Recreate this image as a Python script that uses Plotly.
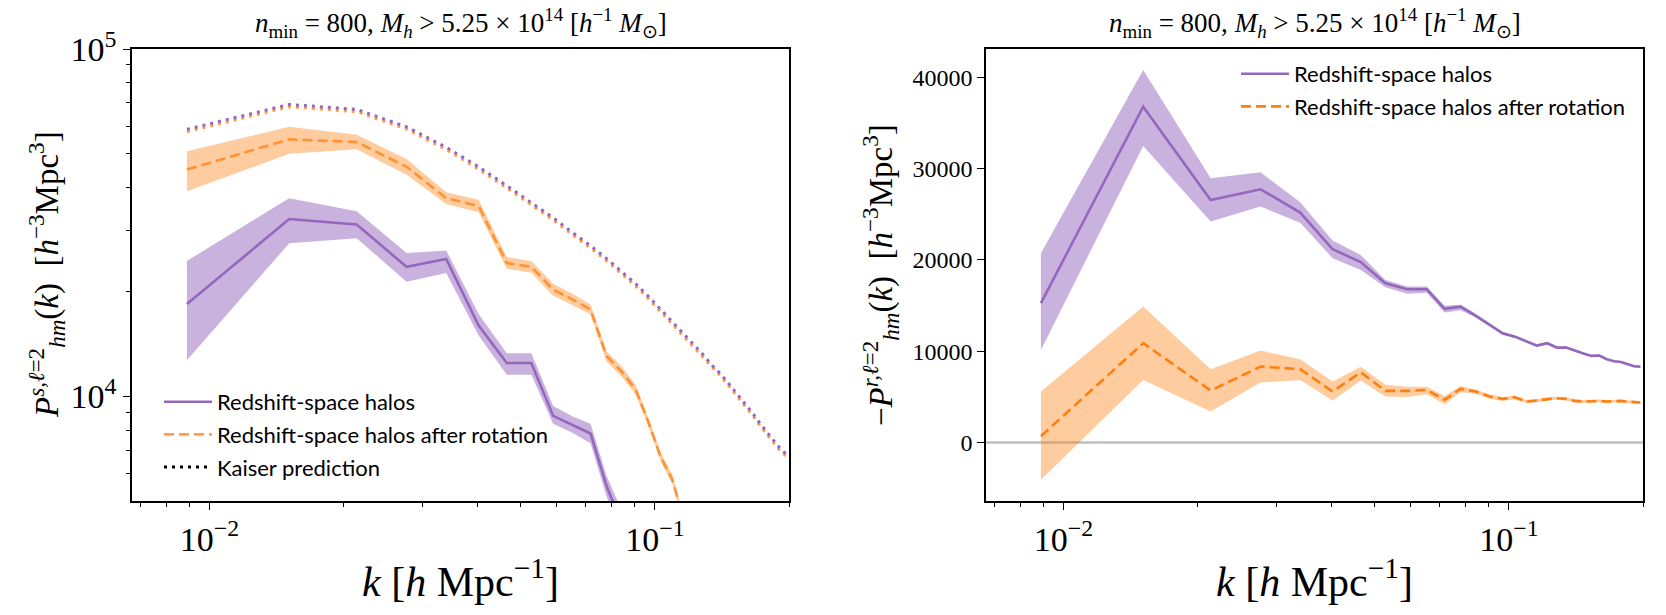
import plotly.graph_objects as go

# ---------------- data ----------------
k = [0.0089, 0.0151, 0.0214, 0.0277, 0.0340, 0.0402, 0.0465, 0.0528, 0.0591, 0.0654,
     0.0717, 0.0779, 0.0842, 0.0905, 0.0968, 0.1031, 0.1094, 0.1156, 0.1219, 0.1282,
     0.1345, 0.1408, 0.1470, 0.1533, 0.1596, 0.1659, 0.1722, 0.1784, 0.1847, 0.1910, 0.1973]

# left panel: P_hm^{s,l=2}
left_halos = [18440, 32400, 31250, 23600, 24870, 15990, 12480, 12480, 8790, 8280, 7820, 5520, 4300]
left_halos_lo = [12710, 27590, 28540, 21390, 22670, 14970, 11550, 11550, 8340, 7850, 7330, 5150, 3900]
left_halos_hi = [24540, 37210, 34140, 25850, 26320, 17280, 13320, 13320, 9380, 8750, 8340, 5900, 4700]

left_rot = [45000, 54950, 53960, 45810, 37210, 35320, 24220, 23600, 20290, 19000, 17780, 13050,
            11790, 10470, 8400, 6680, 5770, 4500]
left_rot_lo = [38980, 49920, 51480, 43480, 35780, 33900, 23290, 22700, 19500, 18300, 17200, 12600,
               11400, 10150, 8150, 6500, 5600, 4380]
left_rot_hi = [50820, 59730, 56680, 48270, 38690, 36800, 25180, 24550, 21100, 19700, 18400, 13500,
               12200, 10800, 8650, 6870, 5950, 4620]

kaiser_halos = [58720, 69250, 67000, 59700, 52120, 45810, 40400, 36090, 32680, 29600, 27150, 24920,
                22870, 21110, 19380, 17780, 16320, 15170, 14100, 13200, 12270, 11570, 10820, 10130,
                9540, 8930, 8360, 7880, 7470, 7090, 6810]
kaiser_rot = [57800, 68200, 66000, 58800, 51350, 45100, 39800, 35550, 32200, 29150, 26750, 24550,
              22530, 20800, 19090, 17510, 16080, 14940, 13890, 13000, 12090, 11400, 10660, 9980,
              9400, 8800, 8230, 7760, 7360, 6980, 6710]

# right panel: -P_hm^{r,l=2}
right_halos = [15260, 36780, 26570, 27740, 25180, 21170, 19760, 17450, 16790, 16790, 14640, 14890,
               13900, 12880, 11970, 11600, 11060, 10620, 10880, 10400, 10400, 10040, 9750, 9490,
               9530, 9130, 8910, 8830, 8580, 8360, 8320]
right_halos_hi = [20730, 40800, 28940, 29600, 26310, 22120, 20550, 17810, 17100, 17100, 14970, 15100,
                  14080, 13050, 12130, 11750, 11200, 10760, 11010, 10530, 10520, 10160, 9860, 9600,
                  9640, 9240, 9010, 8930, 8680, 8460, 8420]
right_halos_lo = [10150, 32480, 24200, 25840, 24080, 20190, 18910, 17010, 16300, 16400, 14230, 14490,
                  13700, 12700, 11810, 11450, 10920, 10480, 10750, 10270, 10280, 9920, 9640, 9380,
                  9420, 9020, 8810, 8730, 8480, 8260, 8220]

right_rot = [700, 10880, 5700, 8320, 8040, 5580, 7700, 5660, 5660, 5770, 4670, 5880, 5590, 5040,
             4780, 4960, 4490, 4600, 4780, 4850, 4780, 4560, 4490, 4530, 4560, 4490, 4560, 4560,
             4490, 4420, 4380]
right_rot_hi = [5580, 14890, 8040, 10070, 9130, 6680, 8300, 6320, 6100, 6100, 5100, 6200, 5800, 5250,
                4980, 5150, 4680, 4780, 4960, 5020, 4950, 4720, 4650, 4690, 4710, 4640, 4700, 4700,
                4630, 4560, 4520]
right_rot_lo = [-4080, 6860, 3400, 6570, 6860, 4600, 6800, 5040, 5000, 5300, 4200, 5500, 5350, 4800,
                4560, 4750, 4300, 4420, 4600, 4680, 4610, 4400, 4330, 4370, 4410, 4340, 4420, 4420,
                4350, 4280, 4240]

title_text = ("<i>n</i><sub>min</sub> = 800, <i>M<sub>h</sub></i> &gt; 5.25 × 10<sup>14</sup> "
              "[<i>h</i><sup>−1</sup> <i>M</i><sub>⊙</sub>]")

PURPLE = "#9467bd"
ORANGE = "#ff7f0e"
PURPLE_BAND = "rgba(148,103,189,0.5)"
ORANGE_BAND = "rgba(255,127,14,0.4)"
SERIF = "Liberation Serif"
SANS = "Lato"


def band(x, lo, hi, color, xa, ya):
    n = len(lo)
    xs = list(x[:n]) + list(x[:n])[::-1]
    ys = list(hi) + list(lo)[::-1]
    return go.Scatter(x=xs, y=ys, fill="toself", fillcolor=color, line=dict(width=0),
                      mode="lines", hoverinfo="skip", showlegend=False, xaxis=xa, yaxis=ya)


fig = go.Figure()

# ---- left panel ----
fig.add_trace(band(k, left_halos_lo, left_halos_hi, PURPLE_BAND, "x", "y"))
fig.add_trace(band(k, left_rot_lo, left_rot_hi, ORANGE_BAND, "x", "y"))
fig.add_trace(go.Scatter(x=k[:len(left_halos)], y=left_halos, mode="lines",
                         line=dict(color=PURPLE, width=2.6), name="Redshift-space halos",
                         legend="legend", legendgroup="a", xaxis="x", yaxis="y"))
fig.add_trace(go.Scatter(x=k[:len(left_rot)], y=left_rot, mode="lines",
                         line=dict(color="rgba(255,127,14,0.75)", width=2.6, dash="10px,5px"),
                         name="Redshift-space halos after rotation",
                         legend="legend", legendgroup="b", xaxis="x", yaxis="y"))
fig.add_trace(go.Scatter(x=k, y=kaiser_rot, mode="lines",
                         line=dict(color="rgba(255,127,14,0.75)", width=3, dash="3px,5px"),
                         showlegend=False, xaxis="x", yaxis="y"))
fig.add_trace(go.Scatter(x=k, y=kaiser_halos, mode="lines",
                         line=dict(color=PURPLE, width=3, dash="3px,5px"),
                         showlegend=False, xaxis="x", yaxis="y"))
fig.add_trace(go.Scatter(x=[None], y=[None], mode="lines",
                         line=dict(color="black", width=3, dash="3px,5px"),
                         name="Kaiser prediction", legend="legend", legendgroup="c",
                         xaxis="x", yaxis="y"))

# ---- right panel ----
fig.add_trace(band(k, right_halos_lo, right_halos_hi, PURPLE_BAND, "x2", "y2"))
fig.add_trace(band(k, right_rot_lo, right_rot_hi, ORANGE_BAND, "x2", "y2"))
fig.add_trace(go.Scatter(x=k, y=right_halos, mode="lines",
                         line=dict(color=PURPLE, width=2.6), name="Redshift-space halos",
                         legend="legend2", legendgroup="d", xaxis="x2", yaxis="y2"))
fig.add_trace(go.Scatter(x=k, y=right_rot, mode="lines",
                         line=dict(color=ORANGE, width=2.6, dash="10px,5px"),
                         name="Redshift-space halos after rotation",
                         legend="legend2", legendgroup="e", xaxis="x2", yaxis="y2"))

W, H = 1666, 615
L1, R1 = 132, 789
L2, R2 = 986, 1643
T, B = 49, 501

def px(x):
    return x / W

def py(y):
    return 1 - y / H

xminor = [0.007, 0.008, 0.009, 0.02, 0.03, 0.04, 0.05, 0.06, 0.07, 0.08, 0.09, 0.2]
common_x = dict(type="log", range=[-2.1739, -0.699], showline=True, linecolor="black", linewidth=1.5,
                mirror=True, ticks="outside", ticklen=7, tickwidth=1.3, tickcolor="black",
                tickvals=[0.01, 0.1], ticktext=["10<sup>−2</sup>", "10<sup>−1</sup>"],
                tickfont=dict(family=SERIF, size=34, color="black"), showgrid=False, zeroline=False,
                automargin=False,
                minor=dict(tickvals=xminor, ticks="outside", ticklen=4, tickwidth=1.1, tickcolor="black",
                           showgrid=False))

fig.update_layout(
    width=W, height=H, margin=dict(l=0, r=0, t=0, b=0, autoexpand=False),
    paper_bgcolor="white", plot_bgcolor="white",
    xaxis=dict(domain=[px(L1), px(R1)], anchor="y", **common_x),
    yaxis=dict(domain=[py(B), py(T)], anchor="x", type="log", range=[3.69897, 5], automargin=False,
               showline=True, linecolor="black", linewidth=1.5, mirror=True,
               ticks="outside", ticklen=7, tickwidth=1.3, tickcolor="black",
               tickvals=[1e4, 1e5], ticktext=["10<sup>4</sup>", "10<sup>5</sup>"],
               tickfont=dict(family=SERIF, size=34, color="black"), showgrid=False, zeroline=False,
               minor=dict(tickvals=[6000, 7000, 8000, 9000, 20000, 30000, 40000, 50000, 60000,
                                    70000, 80000, 90000],
                          ticks="outside", ticklen=4, tickwidth=1.1, tickcolor="black", showgrid=False)),
    xaxis2=dict(domain=[px(L2), px(R2)], anchor="y2", **common_x),
    yaxis2=dict(domain=[py(B), py(T)], anchor="x2", range=[-6400, 43100], automargin=False,
                showline=True, linecolor="black", linewidth=1.5, mirror=True,
                ticks="outside", ticklen=7, tickwidth=1.3, tickcolor="black",
                tickvals=[0, 10000, 20000, 30000, 40000],
                ticktext=["0", "10000", "20000", "30000", "40000"],
                tickfont=dict(family=SERIF, size=24, color="black"), showgrid=False, zeroline=False),
    legend=dict(x=px(159), y=py(381), xanchor="left", yanchor="top", bgcolor="rgba(0,0,0,0)",
                font=dict(family=SANS, size=22, color="black"), itemwidth=48, tracegroupgap=1),
    legend2=dict(x=px(1236), y=py(53), xanchor="left", yanchor="top", bgcolor="rgba(0,0,0,0)",
                 font=dict(family=SANS, size=22, color="black"), itemwidth=48, tracegroupgap=1),
    shapes=[dict(type="line", xref="x2 domain", x0=0, x1=1, yref="y2", y0=0, y1=0,
                 line=dict(color="#bfbfbf", width=2.5), layer="below")],
)

ann = []
for (l, r) in [(L1, R1), (L2, R2)]:
    c = (l + r) / 2
    ann.append(dict(text=title_text, x=px(c), y=py(23), xref="paper", yref="paper",
                    xanchor="center", yanchor="middle",
                    showarrow=False, font=dict(family=SERIF, size=27, color="black")))
    ann.append(dict(text="<i>k</i> [<i>h</i> Mpc<sup>−1</sup>]", x=px(c), y=py(578), xref="paper",
                    yref="paper", xanchor="center", yanchor="middle",
                    showarrow=False, font=dict(family=SERIF, size=42, color="black")))
ann.append(dict(text="<i>P</i><sup><i>s,ℓ</i>=2</sup><sub><i>hm</i></sub>(<i>k</i>)  [<i>h</i><sup>−3</sup>Mpc<sup>3</sup>]",
                x=px(46), y=py(275), xref="paper", yref="paper", textangle=-90, showarrow=False,
                xanchor="center", yanchor="middle",
                font=dict(family=SERIF, size=33, color="black")))
ann.append(dict(text="−<i>P</i><sup><i>r,ℓ</i>=2</sup><sub><i>hm</i></sub>(<i>k</i>)  [<i>h</i><sup>−3</sup>Mpc<sup>3</sup>]",
                x=px(880), y=py(275), xref="paper", yref="paper", textangle=-90, showarrow=False,
                xanchor="center", yanchor="middle",
                font=dict(family=SERIF, size=33, color="black")))
fig.update_layout(annotations=ann)

fig.write_html("out.html")
